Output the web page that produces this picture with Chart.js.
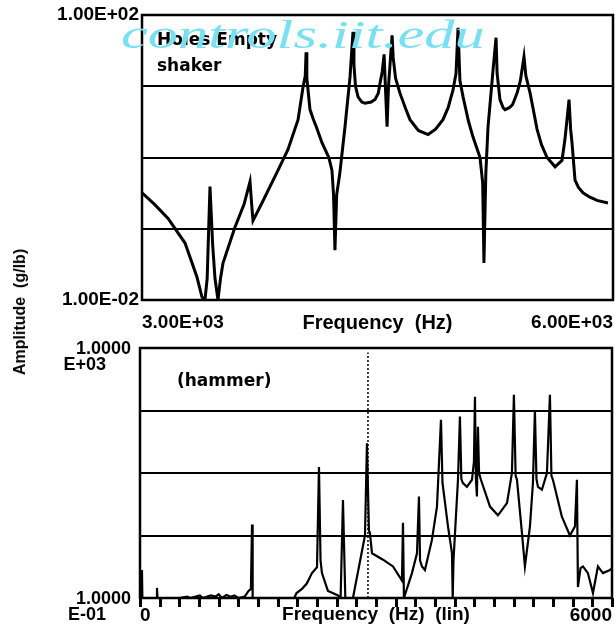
<!DOCTYPE html>
<html>
<head>
<meta charset="utf-8">
<script src="https://cdn.jsdelivr.net/npm/chart.js@4.4.1/dist/chart.umd.min.js"></script>
<style>
  body { margin: 0; background: #fff; }
  #wrap { position: relative; width: 615px; height: 641px; overflow: hidden; background: #fff; }
  canvas { position: absolute; left: 0; }
  #shakerChart { top: 0; }
  #hammerChart { top: 335px; }
  .note { position: absolute; font: bold 17px "DejaVu Sans"; color: #000; white-space: pre; line-height: 1; }
  #ylabel { position: absolute; left: 20px; top: 312px; font: bold 16px "Liberation Sans"; color: #000;
            white-space: pre; transform: translate(-50%, -50%) rotate(-90deg); }
  #mark { position: absolute; left: 121px; top: 12px; font: italic 39px "Liberation Serif"; color: #78e0f2;
          white-space: pre; transform-origin: 0 0; transform: scaleX(1.55); }
</style>
</head>
<body>
<div id="wrap">
  <canvas id="shakerChart" width="615" height="335"></canvas>
  <canvas id="hammerChart" width="615" height="306"></canvas>
  <div class="note" style="left:157px; top:31px;">Holes Empty</div>
  <div class="note" style="left:157px; top:57px;">shaker</div>
  <div class="note" style="left:177px; top:372px;">(hammer)</div>
  <div id="ylabel">Amplitude  (g/lb)</div>
  <div id="mark">controls.iit.edu</div>
</div>
<script>
// top panel: shaker, log amplitude vs frequency
const shakerFreq = [3000, 3080, 3166, 3274, 3350, 3382, 3401, 3415, 3433, 3450, 3465, 3484, 3500, 3516,
  3592, 3650, 3688, 3700, 3707, 3764, 3866, 3930, 3994, 4026, 4040, 4045, 4050, 4070, 4090, 4110, 4147,
  4190, 4210, 4220, 4229, 4240, 4260, 4293, 4325, 4344, 4350, 4360, 4376, 4400, 4420, 4460, 4484, 4505,
  4516, 4530, 4542, 4552, 4561, 4570, 4593, 4600, 4615, 4643, 4680, 4707, 4760, 4822, 4870, 4917, 4950,
  4981, 5000, 5013, 5025, 5045, 5080, 5108, 5153, 5170, 5178, 5190, 5204, 5236, 5255, 5262, 5280, 5300,
  5312, 5340, 5360, 5389, 5410, 5433, 5445, 5472, 5490, 5516, 5545, 5580, 5631, 5675, 5694, 5720, 5730,
  5739, 5758, 5780, 5809, 5850, 5898, 5968];
const shakerAmp = [0.32, 0.22, 0.14, 0.063, 0.021, 0.011, 0.010, 0.02, 0.39, 0.06, 0.02, 0.010, 0.02, 0.033,
  0.105, 0.22, 0.46, 0.2, 0.13, 0.23, 0.66, 1.3, 3.4, 9.8, 14, 30, 13, 4.7, 3.5, 2.7, 1.6,
  1.0, 0.66, 0.3, 0.05, 0.3, 0.6, 2.7, 13.5, 58, 20, 10, 7.1, 6, 5.8, 6, 6.5, 8,
  11, 16, 28, 8, 2.7, 10, 52, 25, 13, 8, 4.8, 3.4, 2.4, 2.1, 2.5, 3.4, 5,
  8.9, 15, 66, 12, 7.1, 3.2, 1.95, 1.0, 0.44, 0.033, 0.6, 2.7, 17, 48, 15, 6.5, 5,
  4.7, 5, 5.5, 8, 12, 26, 14, 8, 5, 2.5, 1.5, 1.0, 0.74, 0.91, 1.8, 6.5, 2.5,
  1.6, 0.48, 0.38, 0.32, 0.28, 0.25, 0.23];

// bottom panel: hammer, log amplitude vs linear frequency
const hammerFreq = [0, 20, 25, 30, 210, 216, 222, 500, 600, 640, 760, 800, 900, 960, 1000, 1040, 1100,
  1150, 1200, 1250, 1330, 1380, 1410, 1424, 1432, 1960, 1990, 2059, 2120, 2186, 2250, 2275, 2295,
  2313, 2389, 2450, 2517, 2550, 2580, 2610, 2707, 2860, 2885, 2910, 2923, 2949, 3089, 3216, 3330,
  3343, 3355, 3457, 3521, 3546, 3560, 3584, 3622, 3711, 3775, 3826, 3845, 3915, 3966, 3975, 3985,
  4042, 4067, 4085, 4105, 4156, 4220, 4245, 4258, 4270, 4283, 4296, 4310, 4334, 4449, 4550, 4665,
  4728, 4753, 4775, 4792, 4855, 4893, 4957, 4995, 5020, 5040, 5059, 5109, 5173, 5211, 5230, 5249,
  5363, 5465, 5529, 5554, 5567, 5600, 5631, 5694, 5758, 5821, 5885, 5974, 6000];
const hammerAmp = [0.1, 0.1, 0.28, 0.1, 0.1, 0.145, 0.1, 0.1, 0.105, 0.1, 0.11, 0.1, 0.11, 0.105, 0.115, 0.1, 0.112,
  0.105, 0.11, 0.1, 0.105, 0.13, 0.14, 1.5, 0.1, 0.1, 0.12, 0.14, 0.17, 0.25, 0.31, 12.5, 0.4,
  0.25, 0.13, 0.12, 0.11, 0.1, 3.7, 0.1, 0.1, 1.0, 30, 1.2, 1.1, 0.52, 0.41, 0.32, 0.19,
  1.6, 0.1, 0.25, 0.52, 4.2, 0.4, 0.32, 0.28, 0.85, 2.9, 71, 7, 1.4, 0.52, 0.1, 0.4,
  7.8, 80, 8, 6.9, 6, 7.8, 15, 166, 8, 4.2, 55, 10, 7.8, 2.9, 2.1, 3.3,
  10, 178, 9, 7.8, 1.1, 0.32, 1.4, 6.9, 100, 8, 6, 5.4, 10, 178, 9, 7.8,
  2, 1.0, 1.4, 7.8, 0.15, 0.3, 0.32, 0.25, 0.12, 0.32, 0.25, 0.28, 0.3];

// dotted spike near 2900 Hz
const dottedFreq = [2898, 2898];
const dottedAmp = [0.1, 850];

const shakerTicks = [0.01, 0.1, 1, 10, 100];
const hammerTicks = [0.1, 1, 10, 100, 1000];
const shakerXTicks = [3000, 6000];
const hammerXStep = 250;
const tickMarkLen = 9;

function expParts(v) {
  const e = Math.floor(Math.log10(v) + 1e-9);
  const m = v / Math.pow(10, e);
  const sign = e < 0 ? '-' : '+';
  return { m: m, e: sign + String(Math.abs(e)).padStart(2, '0') };
}
function sci(v, digits) {
  const p = expParts(v);
  return p.m.toFixed(digits) + 'E' + p.e;
}

const pts = (xs, ys) => xs.map((x, i) => ({ x: x, y: ys[i] }));

// plot frame plus the short marks under the x axis (bottom panel only)
const frame = {
  id: 'frame',
  afterDraw(chart) {
    const { ctx, chartArea: a } = chart;
    ctx.save();
    ctx.strokeStyle = '#000';
    ctx.lineWidth = 2.5;
    ctx.strokeRect(a.left, a.top, a.right - a.left, a.bottom - a.top);
    if (chart.canvas.id === 'hammerChart') {
      const sx = chart.scales.x;
      ctx.fillStyle = '#000';
      for (let i = 0; i < sx.ticks.length; i++) {
        const px = Math.round(sx.getPixelForValue(sx.ticks[i].value));
        ctx.fillRect(px - 1, Math.round(a.bottom), 3, tickMarkLen);
      }
    }
    ctx.restore();
  }
};

const bold = (size, extra) => Object.assign({ family: 'Liberation Sans', weight: 'bold', size: size }, extra || {});
// fixed axis boxes so the plot areas land where the scan has them
const fixX = h => s => { s.height = h; s.paddingLeft = 0; s.paddingRight = 0; };
const fixY = w => s => { s.width = w; s.paddingTop = 0; s.paddingBottom = 0; };

new Chart(document.getElementById('shakerChart'), {
  type: 'line',
  data: {
    datasets: [{
      data: pts(shakerFreq, shakerAmp),
      borderColor: '#000', borderWidth: 3, pointRadius: 0, tension: 0
    }]
  },
  options: {
    responsive: false,
    animation: false,
    layout: { padding: { top: 15, right: 2, left: 0, bottom: 0 } },
    plugins: { legend: { display: false }, tooltip: { enabled: false } },
    scales: {
      x: {
        type: 'linear', min: 3000, max: 6000,
        afterBuildTicks: s => { s.ticks = shakerXTicks.map(v => ({ value: v })); },
        afterFit: fixX(35),
        grid: { display: false, drawTicks: false },
        border: { display: false },
        ticks: { align: 'inner', maxRotation: 0, padding: 11, color: '#000', font: bold(19),
                 callback: v => sci(v, 2) },
        title: { display: true, text: 'Frequency  (Hz)', color: '#000', font: bold(20),
                 padding: { top: 0, bottom: 0 } }
      },
      y: {
        type: 'logarithmic', min: 0.01, max: 100,
        afterBuildTicks: s => { s.ticks = shakerTicks.map(v => ({ value: v })); },
        afterFit: fixY(142),
        grid: { color: '#000', lineWidth: 2, drawTicks: false },
        border: { display: false },
        ticks: { padding: 3, color: '#000', font: bold(19),
                 callback: (v, i, t) => (i === 0 || i === t.length - 1) ? sci(v, 2) : '' }
      }
    }
  },
  plugins: [frame]
});

new Chart(document.getElementById('hammerChart'), {
  type: 'line',
  data: {
    datasets: [{
      data: pts(hammerFreq, hammerAmp),
      borderColor: '#000', borderWidth: 2.2, pointRadius: 0, tension: 0
    }, {
      data: pts(dottedFreq, dottedAmp),
      borderColor: '#000', borderWidth: 1.5, borderDash: [2, 2], pointRadius: 0
    }]
  },
  options: {
    responsive: false,
    animation: false,
    layout: { padding: { top: 13, right: 3, left: 0, bottom: 0 } },
    plugins: { legend: { display: false }, tooltip: { enabled: false } },
    scales: {
      x: {
        type: 'linear', min: 0, max: 6000,
        afterBuildTicks: s => {
          const t = [];
          for (let v = s.min; v <= s.max; v += hammerXStep) t.push({ value: v });
          s.ticks = t;
        },
        afterFit: fixX(43),
        grid: { display: true, drawOnChartArea: false, drawTicks: true, tickLength: 9,
                color: '#000', lineWidth: 2 },
        border: { display: false },
        ticks: { autoSkip: false, align: 'inner', maxRotation: 0, padding: -3,
                 color: '#000', font: bold(19),
                 callback: (v, i, t) => (i === 0 || i === t.length - 1) ? String(v) : '' },
        title: { display: true, text: 'Frequency  (Hz)  (lin)', color: '#000', font: bold(19),
                 padding: { top: 0, bottom: 15 } }
      },
      y: {
        type: 'logarithmic', min: 0.1, max: 1000,
        afterBuildTicks: s => { s.ticks = hammerTicks.map(v => ({ value: v })); },
        afterFit: fixY(140),
        grid: { color: '#000', lineWidth: 2, drawTicks: false },
        border: { display: false },
        ticks: { padding: 9, labelOffset: 9, color: '#000', font: bold(18, { lineHeight: 0.92 }),
                 callback: (v, i, t) => {
                   if (i !== 0 && i !== t.length - 1) return '';
                   const p = expParts(v);
                   return [p.m.toFixed(4), 'E' + p.e + '     '];
                 } }
      }
    }
  },
  plugins: [frame]
});
</script>
</body>
</html>
